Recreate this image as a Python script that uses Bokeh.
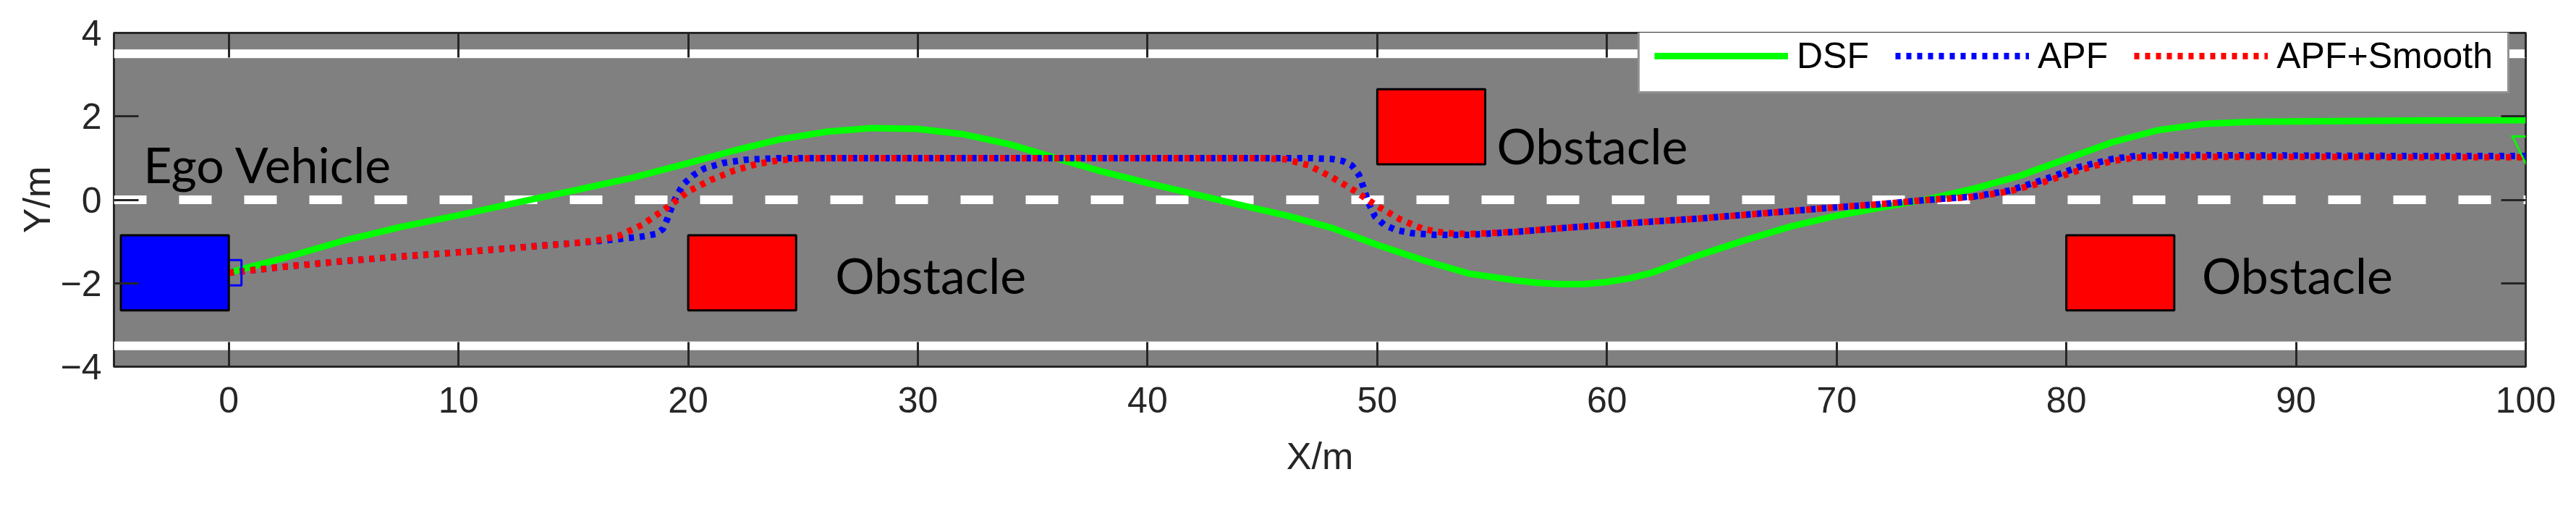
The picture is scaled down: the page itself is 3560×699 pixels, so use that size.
from bokeh.plotting import figure
from bokeh.models import FixedTicker, LinearAxis, Range1d, Legend, LegendItem, Label
from bokeh.embed import file_html
from bokeh.resources import INLINE
from bokeh.core.properties import value

# ---------------- data ----------------
x_lim = [-5, 100]
y_lim = [-4, 4]
x_ticks = [0, 10, 20, 30, 40, 50, 60, 70, 80, 90, 100]
x_tick_labels = ["0", "10", "20", "30", "40", "50", "60", "70", "80", "90", "100"]
y_ticks = [-4, -2, 0, 2, 4]
y_tick_labels = ["\u22124", "\u22122", "0", "2", "4"]

dsf_x = [0, 1, 2.5, 5, 7.5, 10, 12.5, 15, 17.5, 20, 22, 24, 26, 28, 30, 32, 34, 36, 38, 40,
         42, 44, 46, 48, 50, 52, 54, 56, 57, 58, 59, 60, 61, 62, 64, 66, 68, 70, 72, 74, 76, 78,
         80, 82, 84, 86, 88, 90, 95, 100]
dsf_y = [-1.75, -1.6, -1.38, -0.98, -0.65, -0.37, -0.07, 0.22, 0.52, 0.88, 1.18, 1.45, 1.63, 1.72, 1.7, 1.57, 1.33, 1.0, 0.68, 0.4,
         0.14, -0.12, -0.37, -0.67, -1.08, -1.45, -1.77, -1.93, -1.99, -2.02, -2.02, -1.97, -1.88, -1.74, -1.33, -0.97, -0.64, -0.38, -0.18, 0.02, 0.27, 0.58,
         0.98, 1.38, 1.67, 1.82, 1.87, 1.88, 1.9, 1.91]

apf_x = [0, 2.5, 5, 7.5, 10, 12.5, 15, 17, 18, 18.6, 18.9, 19.1, 19.3, 19.5, 19.8, 20.2, 20.7, 21.5, 22.5, 24,
         30, 40, 47, 48, 48.5, 48.9, 49.2, 49.4, 49.6, 49.9, 50.3, 50.8, 51.5, 52.5, 54, 56, 58, 60, 62, 64,
         66, 68, 70, 72, 74, 76, 77.5, 79, 80.5, 82, 83, 84, 86, 90, 95, 100]
apf_y = [-1.75, -1.6, -1.47, -1.36, -1.26, -1.15, -1.04, -0.94, -0.88, -0.82, -0.7, -0.45, -0.15, 0.1, 0.38, 0.58, 0.75, 0.88, 0.96, 1.0,
         1.0, 1.0, 1.0, 0.98, 0.93, 0.82, 0.6, 0.3, -0.05, -0.4, -0.6, -0.72, -0.8, -0.84, -0.84, -0.77, -0.68, -0.6, -0.52, -0.45,
         -0.36, -0.27, -0.18, -0.1, 0.0, 0.08, 0.22, 0.48, 0.78, 0.98, 1.05, 1.07, 1.07, 1.06, 1.05, 1.05]

smooth_x = [0, 2.5, 5, 7.5, 10, 12.5, 15, 16, 17, 18, 19, 20, 21, 22, 23, 24, 25, 26, 30, 40,
            45, 46, 47, 48, 49, 50, 51, 52, 53, 54, 56, 58, 60, 62, 64, 66, 68, 70, 72, 74,
            76, 77.5, 79, 80.5, 82, 83, 84, 86, 90, 95, 100]
smooth_y = [-1.75, -1.6, -1.47, -1.36, -1.26, -1.15, -1.04, -0.98, -0.86, -0.6, -0.22, 0.2, 0.48, 0.7, 0.86, 0.95, 0.99, 1.0, 1.0, 1.0,
            1.0, 0.97, 0.83, 0.55, 0.22, -0.15, -0.47, -0.7, -0.8, -0.82, -0.77, -0.68, -0.6, -0.52, -0.45, -0.36, -0.27, -0.18, -0.1, 0.0,
            0.07, 0.2, 0.42, 0.7, 0.93, 1.01, 1.03, 1.03, 1.03, 1.02, 1.02]

vehicle_length = 4.7
vehicle_width = 1.8
ego_front_x = [0.0]
ego_center_y = [-1.75]
obstacle_rear_x = [20, 50, 80]
obstacle_center_y = [-1.75, 1.75, -1.75]

lane_edge_y = [3.5, -3.5]
lane_center_y = [0.0]

label_text = ["Ego Vehicle", "Obstacle", "Obstacle", "Obstacle"]
label_x = [-3.72, 26.4, 55.2, 85.9]
label_y = [0.86, -1.8, 1.31, -1.8]

# ---------------- figure ----------------
DARK = "#262626"
p = figure(frame_width=3333, frame_height=461,
           x_range=Range1d(x_lim[0], x_lim[1]), y_range=Range1d(y_lim[0], y_lim[1]),
           output_backend="svg", toolbar_location=None,
           min_border_left=157, min_border_right=54, min_border_top=45, min_border_bottom=177,
           background_fill_color="#808080", border_fill_color="white")
p.xgrid.visible = False
p.ygrid.visible = False
p.outline_line_color = DARK
p.outline_line_width = 3

# lane markings
for ly in lane_edge_y:
    p.line(x=x_lim, y=[ly, ly], line_color="white", line_width=12)
for ly in lane_center_y:
    p.line(x=x_lim, y=[ly, ly], line_color="white", line_width=12, line_dash="45 45")

# trajectories
g = p.line(dsf_x, dsf_y, line_color="#00FF00", line_width=9)
b = p.line(apf_x, apf_y, line_color="#0000FF", line_width=9, line_dash="7 8")
r = p.line(smooth_x, smooth_y, line_color="#FF0000", line_width=9, line_dash="7 8")

# start marker (square, half hidden by the ego vehicle)
p.scatter(x=apf_x[:1], y=apf_y[:1], marker="square", size=35, fill_color=None,
          line_color="#0000FF", line_width=3)

# end marker of DSF: hollow downward triangle, as an annotation so the frame does not clip it
p.add_layout(Label(x=dsf_x[-1], y=dsf_y[-1], text="\u25bd", text_font="DejaVu Sans",
                   text_font_size="54px", text_color="#00FF00", text_align="center",
                   text_baseline="alphabetic", y_offset=-38))

# vehicles
p.quad(left=[x - vehicle_length for x in ego_front_x], right=ego_front_x,
       bottom=[y - vehicle_width / 2 for y in ego_center_y], top=[y + vehicle_width / 2 for y in ego_center_y],
       fill_color="#0000FF", line_color="black", line_width=3)
p.quad(left=obstacle_rear_x, right=[x + vehicle_length for x in obstacle_rear_x],
       bottom=[y - vehicle_width / 2 for y in obstacle_center_y], top=[y + vehicle_width / 2 for y in obstacle_center_y],
       fill_color="#FF0000", line_color="black", line_width=3)

p.text(x=label_x, y=label_y, text=label_text, text_font=value("Lato"), text_font_size="68px",
       text_baseline="alphabetic", text_align="left", text_color="black")

# axes
def style_axis(ax, ticks, labels, show_labels):
    ax.ticker = FixedTicker(ticks=ticks)
    ax.axis_line_color = None
    ax.major_tick_in = 34
    ax.major_tick_out = 0
    ax.minor_tick_in = 0
    ax.minor_tick_out = 0
    ax.major_tick_line_color = DARK
    ax.major_tick_line_width = 3
    if show_labels:
        ax.major_label_overrides = dict(zip(ticks, labels))
        ax.major_label_text_font = "Liberation Sans"
        ax.major_label_text_font_size = "50px"
        ax.major_label_text_color = DARK
        ax.axis_label_text_font = "Liberation Sans"
        ax.axis_label_text_font_size = "52px"
        ax.axis_label_text_font_style = "normal"
        ax.axis_label_text_color = DARK
    else:
        ax.major_label_overrides = {t: "" for t in ticks}
        ax.major_label_text_font_size = "1px"
        ax.major_label_standoff = 0

style_axis(p.xaxis[0], x_ticks, x_tick_labels, True)
style_axis(p.yaxis[0], y_ticks, y_tick_labels, True)
p.xaxis[0].axis_label = "X/m"
p.yaxis[0].axis_label = "Y/m"
p.xaxis[0].major_label_standoff = 28
p.xaxis[0].axis_label_standoff = 28
p.yaxis[0].major_label_standoff = 17
p.yaxis[0].axis_label_standoff = 0

top_ax = LinearAxis()
style_axis(top_ax, x_ticks, x_tick_labels, False)
p.add_layout(top_ax, "above")
right_ax = LinearAxis()
style_axis(right_ax, y_ticks, y_tick_labels, False)
p.add_layout(right_ax, "right")

legend = Legend(items=[LegendItem(label="DSF", renderers=[g]),
                       LegendItem(label="APF", renderers=[b]),
                       LegendItem(label="APF+Smooth", renderers=[r])],
                location=(2106, 377), orientation="horizontal")
legend.label_text_font = "Liberation Sans"
legend.label_text_font_size = "50px"
legend.label_text_color = "black"
legend.label_height = 42
legend.glyph_height = 42
legend.glyph_width = 185
legend.label_standoff = 12
legend.spacing = 36
legend.padding = 20
legend.margin = 0
legend.border_line_color = DARK
legend.border_line_width = 3
legend.background_fill_color = "white"
legend.background_fill_alpha = 1
p.add_layout(legend)

open("out.html", "w").write(file_html(p, INLINE))
